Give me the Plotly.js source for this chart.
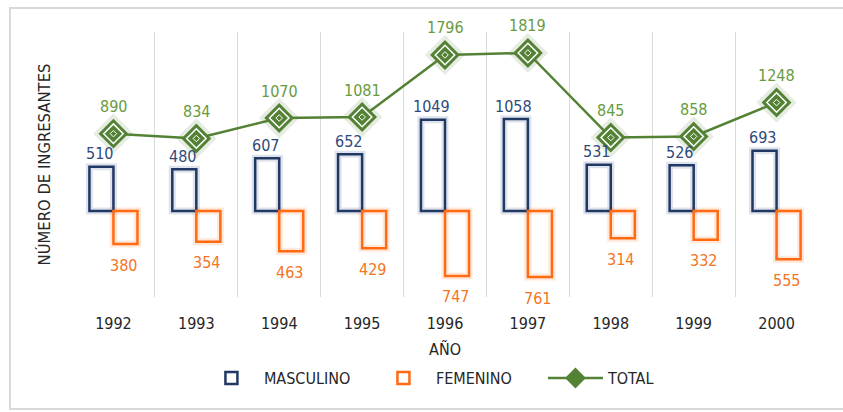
<!DOCTYPE html>
<html>
<head>
<meta charset="utf-8">
<script src="https://cdn.plot.ly/plotly-3.0.1.min.js"></script>
<style>
  html, body { margin: 0; padding: 0; background: #ffffff; }
  #wrap { position: relative; width: 843px; height: 412px; }
  #chart { width: 843px; height: 412px; }
  #frame { position: absolute; left: 9px; top: 7px; width: 840px; height: 403px;
           border: 2px solid #d9d9d9; pointer-events: none; box-sizing: border-box; }
</style>
</head>
<body>
<div id="wrap">
  <div id="chart"></div>
  <div id="frame"></div>
</div>
<script>
const years     = [1992, 1993, 1994, 1995, 1996, 1997, 1998, 1999, 2000];
const yearLabels = ['1992','1993','1994','1995','1996','1997','1998','1999','2000'];
const masculino = [510, 480, 607, 652, 1049, 1058, 531, 526, 693];
const femenino  = [380, 354, 463, 429, 747, 761, 314, 332, 555];
const total     = [890, 834, 1070, 1081, 1796, 1819, 845, 858, 1248];

const FONT = '"DejaVu Sans Condensed", "Liberation Sans Narrow", sans-serif';
const NAVY = '#203864';
const NAVY_TXT = '#2f4a7a';
const ORANGE = '#ff6a13';
const ORANGE_TXT = '#f5741f';
const GREEN = '#548235';
const GREEN_TXT = '#6a9a3e';

const traces = [
  // soft glow behind the bars (base axes)
  {
    type: 'bar', x: years, y: masculino, showlegend: false, xaxis: 'x', yaxis: 'y',
    marker: { color: 'rgba(0,0,0,0)', line: { color: 'rgba(47,74,122,0.16)', width: 7 } }
  },
  {
    type: 'bar', x: years, y: femenino.map(v => -v), showlegend: false, xaxis: 'x', yaxis: 'y',
    marker: { color: 'rgba(0,0,0,0)', line: { color: 'rgba(255,106,19,0.16)', width: 7 } }
  },
  // real bars
  {
    type: 'bar', name: 'MASCULINO', x: years, y: masculino, xaxis: 'x2', yaxis: 'y2',
    marker: { color: 'rgba(255,255,255,0)', line: { color: NAVY, width: 2.5 } }
  },
  {
    type: 'bar', name: 'FEMENINO', x: years, y: femenino.map(v => -v), xaxis: 'x2', yaxis: 'y2',
    marker: { color: 'rgba(255,255,255,0)', line: { color: ORANGE, width: 2.5 } }
  },
  {
    type: 'scatter', mode: 'markers', x: years, y: total, showlegend: false, xaxis: 'x2', yaxis: 'y2',
    marker: { symbol: 'diamond', size: 31, color: 'rgba(84,130,53,0.15)', line: { width: 0 } }
  },
  {
    type: 'scatter', mode: 'lines+markers', name: 'TOTAL', x: years, y: total, xaxis: 'x2', yaxis: 'y2',
    line: { color: GREEN, width: 2.5 },
    marker: { symbol: 'diamond', size: 23, color: GREEN, line: { width: 0 } }
  },
  {
    type: 'scatter', mode: 'markers', x: years, y: total, showlegend: false, xaxis: 'x2', yaxis: 'y2',
    marker: { symbol: 'diamond', size: 15, color: GREEN, line: { color: '#ffffff', width: 1.5 } }
  },
  {
    type: 'scatter', mode: 'markers', x: years, y: total, showlegend: false, xaxis: 'x2', yaxis: 'y2',
    marker: { symbol: 'diamond', size: 5, color: GREEN, line: { color: '#ffffff', width: 1 } }
  }
];

const annotations = [];
years.forEach((yr, i) => {
  annotations.push({ x: yr, y: masculino[i], xref: 'x2', yref: 'y2', text: String(masculino[i]),
    showarrow: false, xshift: -14, yshift: 13, font: { family: FONT, size: 16, color: NAVY_TXT } });
  annotations.push({ x: yr, y: -femenino[i], xref: 'x2', yref: 'y2', text: String(femenino[i]),
    showarrow: false, xshift: 10, yshift: -21, font: { family: FONT, size: 16, color: ORANGE_TXT } });
  annotations.push({ x: yr, y: total[i], xref: 'x2', yref: 'y2', text: String(total[i]),
    showarrow: false, xshift: 0, yshift: 27, font: { family: FONT, size: 16, color: GREEN_TXT } });
});

const XR = [1991.5, 2000.5];
const YR = [-990, 2060];

const layout = {
  width: 843, height: 412,
  margin: { l: 72, r: 25, t: 32, b: 115 },
  paper_bgcolor: '#ffffff', plot_bgcolor: '#ffffff',
  font: { family: FONT, size: 16, color: '#262626' },
  barmode: 'group', bargap: 0.42, bargroupgap: 0,
  showlegend: true,
  legend: { orientation: 'h', x: 0.516, xanchor: 'center', y: -0.306, yanchor: 'middle',
            font: { family: FONT, size: 16, color: '#262626' }, itemwidth: 55,
            entrywidth: 102, entrywidthmode: 'pixels',
            traceorder: 'normal', bgcolor: 'rgba(0,0,0,0)' },
  xaxis: {
    type: 'linear', range: XR, tickmode: 'array', tickvals: years, ticktext: yearLabels,
    showgrid: false, showline: false, zeroline: false, ticks: '', ticklabelstandoff: 15,
    minor: { tickmode: 'linear', tick0: 1991.5, dtick: 1, showgrid: true, gridcolor: '#d9d9d9', gridwidth: 1, ticks: '' },
    tickfont: { family: FONT, size: 16, color: '#262626' },
    title: { text: 'AÑO', font: { family: FONT, size: 16, color: '#262626' }, standoff: 11 }
  },
  yaxis: {
    range: YR, showgrid: false, zeroline: false, showticklabels: false, ticks: '',
    showline: false,
    title: { text: 'NÚMERO DE INGRESANTES', font: { family: FONT, size: 16.5, color: '#262626' }, standoff: 16 }
  },
  xaxis2: {
    type: 'linear', range: XR, overlaying: 'x', matches: 'x', showgrid: false, showline: false,
    zeroline: false, showticklabels: false, ticks: ''
  },
  yaxis2: {
    range: YR, overlaying: 'y', matches: 'y', showgrid: false, showline: false,
    zeroline: false, showticklabels: false, ticks: ''
  },
  annotations: annotations
};

Plotly.newPlot('chart', traces, layout, { displayModeBar: false, staticPlot: true });
</script>
</body>
</html>
